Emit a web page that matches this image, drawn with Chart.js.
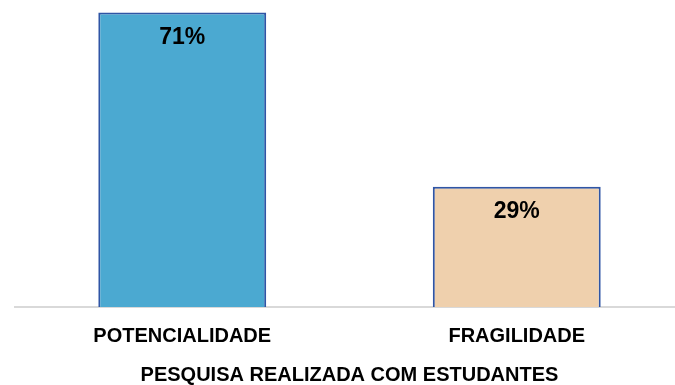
<!DOCTYPE html>
<html>
<head>
<meta charset="utf-8">
<script src="https://cdn.jsdelivr.net/npm/chart.js@4"></script>
<style>
  html, body { margin: 0; padding: 0; background: #ffffff; overflow: hidden; }
  #wrap { width: 684px; height: 385px; }
</style>
</head>
<body>
<div id="wrap"><canvas id="pesquisaChart" width="684" height="385"></canvas></div>
<script>
// categorias e percentuais da pesquisa
const categorias = ['POTENCIALIDADE', 'FRAGILIDADE'];
const percentuais = [71, 29];
const coresBarras = ['#4BA9D1', '#EFD0AD'];
const tituloEixo = 'PESQUISA REALIZADA COM ESTUDANTES';

const fonte = "'Liberation Sans', Arial, sans-serif";

// escreve o valor (%) logo abaixo do topo de cada barra
const rotuloValores = {
    id: 'rotuloValores',
    afterDatasetsDraw(chart) {
        const ctx = chart.ctx;
        const meta = chart.getDatasetMeta(0);
        ctx.save();
        ctx.font = 'bold 23px ' + fonte;
        ctx.fillStyle = '#000000';
        ctx.textAlign = 'center';
        ctx.textBaseline = 'middle';
        meta.data.forEach((barra, i) => {
            const valor = chart.data.datasets[0].data[i];
            ctx.fillText(valor + '%', barra.x, barra.y + 25);
        });
        ctx.restore();
    }
};

const ctx = document.getElementById('pesquisaChart').getContext('2d');

const grafico = new Chart(ctx, {
    type: 'bar',
    data: {
        labels: categorias,
        datasets: [{
            data: percentuais,
            backgroundColor: coresBarras,
            borderColor: '#2F55A5',
            borderWidth: 2,
            barPercentage: 0.502,
            categoryPercentage: 1.0
        }]
    },
    options: {
        responsive: false,
        animation: false,
        layout: {
            padding: { left: 15, right: 0, top: 0, bottom: 0 }
        },
        plugins: {
            legend: { display: false },
            tooltip: { enabled: false }
        },
        scales: {
            y: {
                display: false,
                min: 0,
                max: 74
            },
            x: {
                grid: { display: false, drawTicks: false, tickLength: 0 },
                border: { display: true, color: '#D9D9D9', width: 2 },
                ticks: {
                    color: '#000000',
                    padding: 19,
                    font: { family: fonte, size: 20, weight: 'bold', lineHeight: 1 }
                },
                title: {
                    display: true,
                    text: tituloEixo,
                    color: '#000000',
                    padding: { top: 0, bottom: 0 },
                    font: { family: fonte, size: 20, weight: 'bold', lineHeight: 1 }
                }
            }
        }
    },
    plugins: [rotuloValores]
});
</script>
</body>
</html>
